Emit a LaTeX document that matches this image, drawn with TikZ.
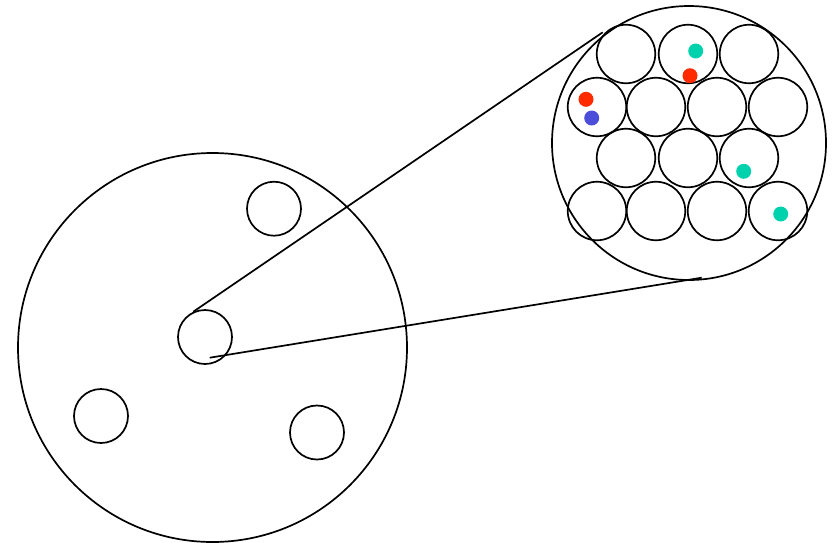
\documentclass[tikz,border=0pt]{standalone}
\begin{document}
\begin{tikzpicture}[x=1pt,y=-1pt,
  ring/.style={circle,draw=black,line width=1.7pt,inner sep=0pt,minimum size=#1},
  dot/.style={circle,fill=#1,inner sep=0pt,minimum size=15pt},
  link/.style={draw=black,line width=1.7pt}]
\definecolor{teal}{HTML}{00D2AE}
\definecolor{redd}{HTML}{FF2A00}
\definecolor{bluu}{HTML}{4A4ED8}
\useasboundingbox (0,0) rectangle (838,542);
% big circle and inner circles
\node[ring=389pt] (B) at (212.5,347.5) {};
\node[ring=54pt] (s1) at (274,208.7) {};
\node[ring=54pt] (m) at (205,337) {};
\node[ring=54pt] (s2) at (101,416) {};
\node[ring=54pt] (s3) at (317,432.5) {};
% zoom circle
\node[ring=274pt] (Z) at (689,143) {};
\foreach \x [count=\i] in {626,688,749} {\node[ring=58.5pt] (a\i) at (\x,54) {};}
\foreach \x [count=\i] in {597,656,717,778} {\node[ring=58.5pt] (b\i) at (\x,107) {};}
\foreach \x [count=\i] in {626,688,749} {\node[ring=58.5pt] (c\i) at (\x,158) {};}
\foreach \x [count=\i] in {597,656,717,778} {\node[ring=58.5pt] (d\i) at (\x,211) {};}
% dots
\node[dot=teal] (t1) at (695.7,51) {};
\node[dot=redd] (r1) at (690,75.7) {};
\node[dot=redd] (r2) at (586,99.3) {};
\node[dot=bluu] (u1) at (591.7,118) {};
\node[dot=teal] (t2) at (743.7,171.3) {};
\node[dot=teal] (t3) at (780.7,214) {};
% connectors
\coordinate (p1) at (193.3,311.7);
\coordinate (q1) at (602.7,32.3);
\coordinate (p2) at (209.7,357.7);
\coordinate (q2) at (701.7,277.7);
\draw[link] (p1) -- (q1);
\draw[link] (p2) -- (q2);
\end{tikzpicture}
\end{document}
